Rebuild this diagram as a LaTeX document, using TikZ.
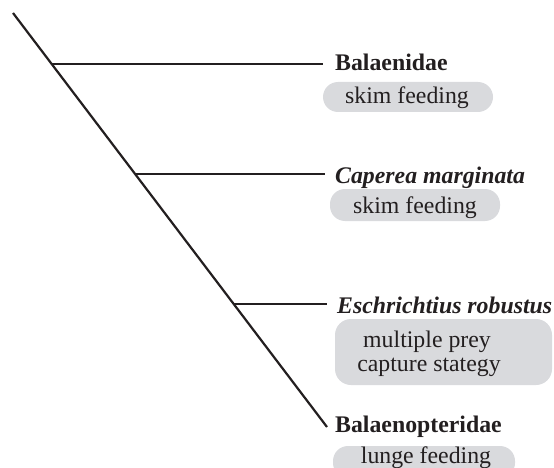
\documentclass[tikz,border=0pt]{standalone}
\usepackage{fontspec}
\setmainfont{Liberation Serif}
\usetikzlibrary{calc}
\definecolor{pillgray}{RGB}{217,218,221}
\definecolor{ink}{RGB}{35,31,32}
\tikzset{
  branch/.style={draw=ink, line width=2.2pt},
  pill/.style={fill=pillgray},
  taxon/.style={anchor=base west, inner sep=0pt, text=ink, font=\fontsize{23.8}{28}\selectfont\bfseries},
  taxonit/.style={taxon, font=\fontsize{23.8}{28}\selectfont\bfseries\itshape},
  trait/.style={anchor=base, inner sep=0pt, text=ink, font=\fontsize{23.8}{28}\selectfont},
}
\begin{document}
\begin{tikzpicture}[x=1pt, y=-1pt]
\useasboundingbox (0,0) rectangle (554,468);
% pills
\fill[pill, rounded corners=15pt] (323,82) rectangle (493,112);
\fill[pill, rounded corners=15pt] (330,189) rectangle (500,221);
\fill[pill, rounded corners=16pt] (335,319) rectangle (552,385);
\fill[pill, rounded corners=15pt] (333,446) rectangle (515,478);
% labels
\node[taxon] (b1) at (335,71) {Balaenidae};
\node[trait] (t1) at (407,104) {skim feeding};
\node[taxonit] (b2) at (335,183) {Caperea marginata};
\node[trait] (t2) at (415,213) {skim feeding};
\node[taxonit] (b3) at (337,313) {Eschrichtius robustus};
\node[trait] (t3a) at (427,347) {multiple prey};
\node[trait] (t3b) at (429,371) {capture stategy};
\node[taxon] (b4) at (335,432) {Balaenopteridae};
\node[trait] (t4) at (426,463) {lunge feeding};
% tree
\coordinate (root) at (13,13);
\coordinate (tip) at (327,427);
\coordinate (j1) at ($(root)!0.1232!(tip)$);
\coordinate (j2) at ($(root)!0.3889!(tip)$);
\coordinate (j3) at ($(root)!0.7029!(tip)$);
\coordinate (e1) at (323,64);
\coordinate (e2) at (325,174);
\coordinate (e3) at (327,304);
\draw[branch] (root) -- (tip);
\draw[branch] (j1) -- (j1 -| e1);
\draw[branch] (j2) -- (j2 -| e2);
\draw[branch] (j3) -- (j3 -| e3);
\end{tikzpicture}
\end{document}
